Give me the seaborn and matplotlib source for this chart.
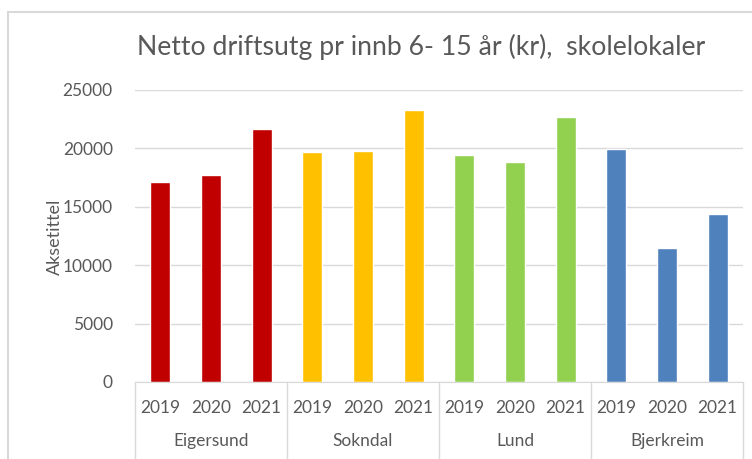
import pandas as pd
import seaborn as sns
import matplotlib.pyplot as plt
from matplotlib.lines import Line2D

# data
kommuner = ["Eigersund", "Sokndal", "Lund", "Bjerkreim"]
years = ["2019", "2020", "2021"]
eigersund = [17100, 17700, 21650]
sokndal = [19650, 19750, 23300]
lund = [19400, 18800, 22650]
bjerkreim = [19950, 11450, 14400]
colors = ["#C00000", "#FFC000", "#92D050", "#4F81BD"]

rows = []
for k, vals in zip(kommuner, [eigersund, sokndal, lund, bjerkreim]):
    for y, v in zip(years, vals):
        rows.append({"kommune": k, "year": y, "slot": k + " " + y, "value": v})
df = pd.DataFrame(rows)

sns.set_style("white")
plt.rcParams["font.family"] = ["Lato", "DejaVu Sans"]
txt = "#595959"
grid = "#D9D9D9"

fig = plt.figure(figsize=(7.52, 4.59), dpi=100)
ax = fig.add_axes([135 / 752, 1 - 382 / 459, (743 - 135) / 752, (382 - 90) / 459])

sns.barplot(data=df, x="slot", y="value", hue="kommune", palette=colors,
            dodge=False, width=0.4, legend=False, ax=ax, saturation=1)

ax.set_ylim(0, 25000)
ax.set_xlim(-0.5, len(df) - 0.5)
ax.set_yticks(range(0, 25001, 5000))
ax.yaxis.grid(True, color=grid, linewidth=1)
ax.set_axisbelow(True)
for s in ["left", "right", "top"]:
    ax.spines[s].set_visible(False)
ax.spines["bottom"].set_color(grid)
ax.tick_params(axis="both", length=0, colors=txt, labelsize=12.5)
ax.tick_params(axis="y", pad=16)
ax.tick_params(axis="x", pad=13)
ax.set_xticks(range(len(df)))
ax.set_xticklabels(df["year"])
ax.set_xlabel("")
ax.set_ylabel("")
fig.text(55 / 752, 1 - 237 / 459, "Aksetittel", rotation=90, ha="center", va="center",
         color=txt, fontsize=13)

# group labels and separators under the axis
trans = ax.get_xaxis_transform()
for i, k in enumerate(kommuner):
    ax.text(i * 3 + 1, -59 / 292, k, transform=trans, ha="center", va="center",
            color=txt, fontsize=12.5)
for i in range(len(kommuner) + 1):
    ax.plot([i * 3 - 0.5, i * 3 - 0.5], [0, -0.3], transform=trans,
            color=grid, linewidth=1, clip_on=False)

# chart border (cropped at right and bottom)
fig.add_artist(Line2D([8 / 752, 8 / 752], [0, 1 - 12 / 459], color=grid, linewidth=1.5))
fig.add_artist(Line2D([8 / 752, 1], [1 - 12 / 459, 1 - 12 / 459], color=grid, linewidth=1.5))

fig.text(421 / 752, 1 - 47 / 459, "Netto driftsutg pr innb 6- 15 år (kr),  skolelokaler",
         ha="center", va="center", color=txt, fontsize=19.2)

fig.savefig("out.png", dpi=100)
